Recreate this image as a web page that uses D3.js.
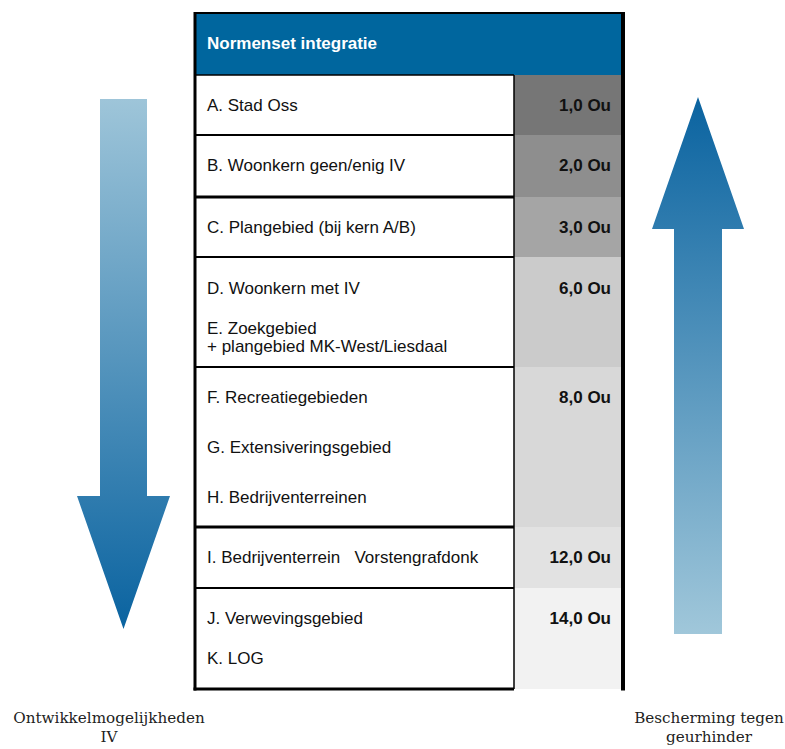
<!DOCTYPE html>
<html>
<head>
<meta charset="utf-8">
<script src="https://cdn.jsdelivr.net/npm/d3@7"></script>
<style>
  body { margin: 0; background: #fff; }
  svg { display: block; }
</style>
</head>
<body>
<script>
var width = 785, height = 749;

// data
var title = "Normenset integratie";
var groupLabels = [
  ["A. Stad Oss"],
  ["B. Woonkern geen/enig IV"],
  ["C. Plangebied (bij kern A/B)"],
  ["D. Woonkern met IV", "E. Zoekgebied", "+ plangebied MK-West/Liesdaal"],
  ["F. Recreatiegebieden", "G. Extensiveringsgebied", "H. Bedrijventerreinen"],
  ["I. Bedrijventerrein   Vorstengrafdonk"],
  ["J. Verwevingsgebied", "K. LOG"]
];
var groupValues = [1, 2, 3, 6, 8, 12, 14];
var leftCaption = ["Ontwikkelmogelijkheden", "IV"];
var rightCaption = ["Bescherming tegen", "geurhinder"];

// layout
var rowHeights = [60, 62, 60, 110, 160, 61, 101];
var lineOffsets = [[36], [36], [36], [37, 77, 95], [36, 86, 136], [36], [36, 76]];
var cellFills = ["#767676", "#8e8e8e", "#a5a5a5", "#cbcbcb", "#d8d8d8", "#e2e2e2", "#f2f2f2"];

var tableLeft = 195, tableRight = 623, valueLeft = 514;
var headTop = 13, headBottom = 75;
var sans = "Liberation Sans, Arial, sans-serif";
var fontSize = 17;

var tops = [];
rowHeights.reduce(function(acc, h) { tops.push(acc); return acc + h; }, headBottom);
var tableBottom = headBottom + d3.sum(rowHeights);

var fmt = function(v) { return d3.format(".1f")(v).replace(".", ",") + " Ou"; };

var svg = d3.select("body").append("svg")
    .attr("width", width)
    .attr("height", height);

var defs = svg.append("defs");

function grad(id, c1, c2) {
  var g = defs.append("linearGradient").attr("id", id)
      .attr("x1", 0).attr("y1", 0).attr("x2", 0).attr("y2", 1);
  g.append("stop").attr("offset", "0%").attr("stop-color", c1);
  g.append("stop").attr("offset", "100%").attr("stop-color", c2);
}
grad("gradDown", "#9ec5d9", "#0a63a0");
grad("gradUp", "#0a63a0", "#a0c7da");

// arrows
var line = d3.line();
var downArrow = [[100, 99], [147, 99], [147, 496], [170, 496], [123.5, 629], [77, 496], [100, 496]];
var upArrow = [[698, 97], [744, 229], [722, 229], [722, 634], [674, 634], [674, 229], [652, 229]];

svg.append("path").attr("d", line(downArrow) + "Z").attr("fill", "url(#gradDown)");
svg.append("path").attr("d", line(upArrow) + "Z").attr("fill", "url(#gradUp)");

// header
svg.append("rect")
    .attr("x", tableLeft).attr("y", headTop)
    .attr("width", tableRight - tableLeft).attr("height", headBottom - headTop)
    .attr("fill", "#00669e");

svg.append("text")
    .attr("x", 207).attr("y", 49)
    .attr("font-family", sans)
    .attr("font-size", fontSize)
    .attr("font-weight", "bold")
    .attr("fill", "#fff")
    .text(title);

// value cells
svg.selectAll("rect.cell")
  .data(groupValues)
  .enter().append("rect")
    .attr("class", "cell")
    .attr("x", valueLeft)
    .attr("y", function(d, i) { return tops[i]; })
    .attr("width", tableRight - valueLeft)
    .attr("height", function(d, i) { return rowHeights[i]; })
    .attr("fill", function(d, i) { return cellFills[i]; });

svg.selectAll("text.val")
  .data(groupValues)
  .enter().append("text")
    .attr("class", "val")
    .attr("x", 611)
    .attr("y", function(d, i) { return tops[i] + lineOffsets[i][0]; })
    .attr("text-anchor", "end")
    .attr("font-family", sans)
    .attr("font-size", fontSize)
    .attr("font-weight", "bold")
    .attr("fill", "#111")
    .text(fmt);

// labels
groupLabels.forEach(function(lbls, i) {
  svg.selectAll(null)
    .data(lbls)
    .enter().append("text")
      .attr("x", 207)
      .attr("y", function(d, j) { return tops[i] + lineOffsets[i][j]; })
      .attr("font-family", sans)
      .attr("font-size", fontSize)
      .attr("fill", "#111")
      .style("white-space", "pre")
      .text(function(d) { return d; });
});

// grid lines
var sepWidths = [2, 3, 2, 2, 3, 2];
svg.selectAll("line.sep")
  .data(tops.slice(1))
  .enter().append("line")
    .attr("x1", tableLeft).attr("x2", valueLeft)
    .attr("y1", function(d) { return d; }).attr("y2", function(d) { return d; })
    .attr("stroke", "#000")
    .attr("stroke-width", function(d, i) { return sepWidths[i]; });

svg.append("line")
    .attr("x1", valueLeft).attr("x2", valueLeft)
    .attr("y1", headBottom).attr("y2", tableBottom)
    .attr("stroke", "#000").attr("stroke-width", 1.5);

svg.append("line")
    .attr("x1", tableLeft).attr("x2", valueLeft)
    .attr("y1", headBottom).attr("y2", headBottom)
    .attr("stroke", "#000").attr("stroke-width", 1.5);

svg.append("line")
    .attr("x1", tableLeft - 1.5).attr("x2", valueLeft)
    .attr("y1", tableBottom).attr("y2", tableBottom)
    .attr("stroke", "#000").attr("stroke-width", 3);

svg.append("line")
    .attr("x1", tableLeft).attr("x2", tableLeft)
    .attr("y1", headTop - 1).attr("y2", tableBottom + 1.5)
    .attr("stroke", "#000").attr("stroke-width", 3);

svg.append("line")
    .attr("x1", tableRight).attr("x2", tableRight)
    .attr("y1", headTop - 1).attr("y2", tableBottom + 1.5)
    .attr("stroke", "#000").attr("stroke-width", 4);

svg.append("line")
    .attr("x1", tableLeft).attr("x2", tableRight)
    .attr("y1", headTop).attr("y2", headTop)
    .attr("stroke", "#000").attr("stroke-width", 2);

// captions
function caption(lines, cx) {
  svg.selectAll(null)
    .data(lines)
    .enter().append("text")
      .attr("x", cx)
      .attr("y", function(d, j) { return 723 + j * 19; })
      .attr("text-anchor", "middle")
      .attr("font-family", "DejaVu Serif, Liberation Serif, serif")
      .attr("font-size", 15.2)
      .attr("fill", "#222")
      .text(function(d) { return d; });
}
caption(leftCaption, 109);
caption(rightCaption, 709);
</script>
</body>
</html>
